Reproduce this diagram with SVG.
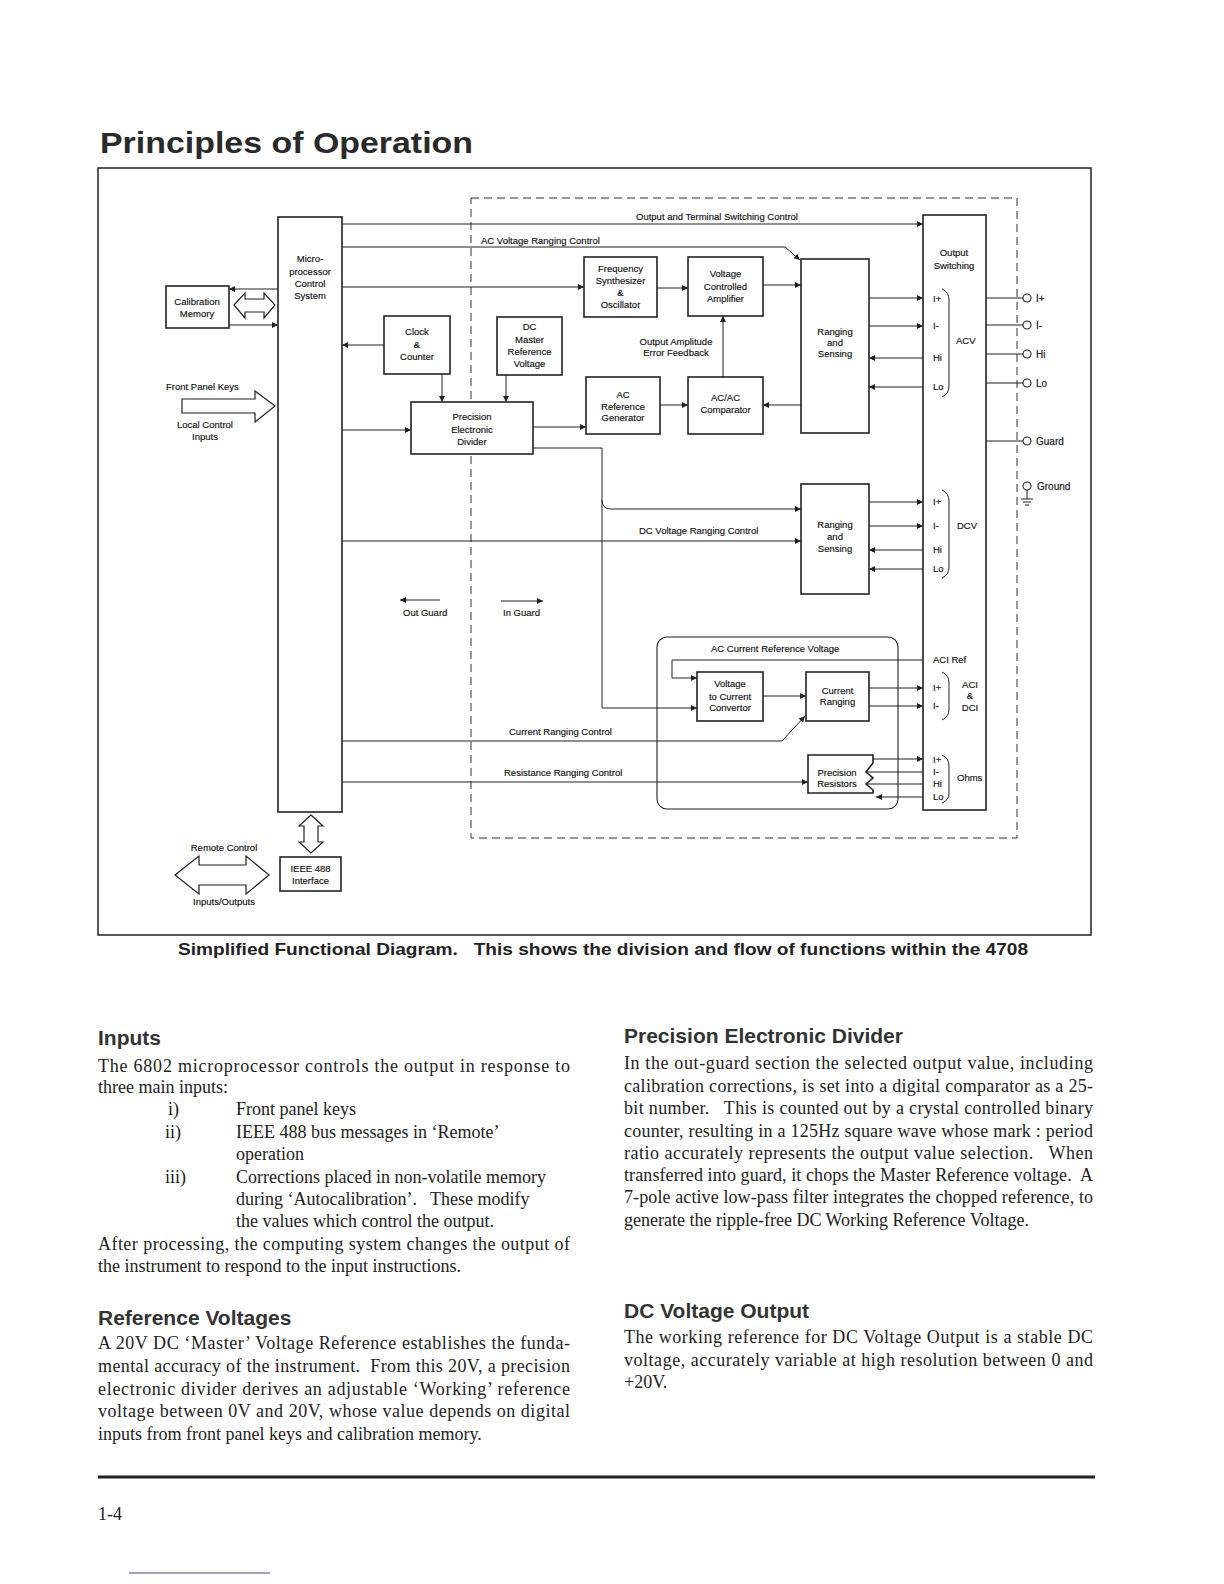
<svg xmlns="http://www.w3.org/2000/svg" width="1224" height="1584" viewBox="0 0 1224 1584">
<defs>
<marker id="ah" viewBox="0 0 10 10" refX="10" refY="5" markerWidth="8" markerHeight="6" orient="auto" markerUnits="userSpaceOnUse"><path d="M0,0 L10,5 L0,10 z" fill="#222"/></marker>
<style>
.box{fill:#fff;stroke:#222;stroke-width:1.6}
.ln{fill:none;stroke:#222;stroke-width:1}
.ar{fill:none;stroke:#222;stroke-width:1;marker-end:url(#ah)}
.hol{fill:#fff;stroke:#222;stroke-width:1.2}
.t{font-family:"Liberation Sans",Arial,sans-serif;font-size:9.5px;fill:#111;stroke:#111;stroke-width:0.15}
.c{text-anchor:middle}
.tl{font-family:"Liberation Sans",Arial,sans-serif;font-size:10px;fill:#111;stroke:#111;stroke-width:0.15}
.h{font-family:"Liberation Sans",Arial,sans-serif;font-size:21px;font-weight:bold;fill:#333}
.b{font-family:"Liberation Serif","Times New Roman",serif;font-size:18px;fill:#222}
</style>
</defs>
<rect width="1224" height="1584" fill="#fff"/>
<text x="100" y="153" font-family="Liberation Sans,Arial,sans-serif" font-size="30" font-weight="bold" fill="#2a2a2a" textLength="373" lengthAdjust="spacingAndGlyphs">Principles of Operation</text>
<rect x="98" y="168" width="993" height="767" fill="none" stroke="#222" stroke-width="1.5"/>
<rect id="guard" x="471" y="198" width="546" height="640" fill="none" stroke="#333" stroke-width="1" stroke-dasharray="8 5"/>

<g id="connectors">
<path class="ar" d="M278,289 H229"/>
<path class="ar" d="M229,325 H278"/>
<path class="ar" d="M342,224 H923"/>
<path class="ar" d="M342,247 H785 L800,260"/>
<path class="ar" d="M342,287 H584"/>
<path class="ar" d="M384,345 H342"/>
<path class="ar" d="M442,374 V402"/>
<path class="ar" d="M342,430 H411"/>
<path class="ar" d="M506,375 V402"/>
<path class="ar" d="M657,288 H688"/>
<path class="ar" d="M763,285 H801"/>
<path class="ar" d="M723,377 V316"/>
<path class="ar" d="M660,405 H688"/>
<path class="ar" d="M801,405 H763"/>
<path class="ar" d="M533,427 H586"/>
<path class="ar" d="M533,448 H602 V708 H697"/>
<path class="ar" d="M602,500 Q602,509 611,509 H801"/>
<path class="ar" d="M342,541 H801"/>
<path class="ar" d="M342,741 H782 L805,716"/>
<path class="ar" d="M342,782 H808"/>
<path class="ar" d="M923,660 H672 V678 H697"/>
<path class="ar" d="M763,696 H806"/>
<path class="ar" d="M869,298 H923"/>
<path class="ar" d="M869,326 H923"/>
<path class="ar" d="M923,358 H869"/>
<path class="ar" d="M923,387 H869"/>
<path class="ar" d="M869,502 H923"/>
<path class="ar" d="M869,526 H923"/>
<path class="ar" d="M923,550 H869"/>
<path class="ar" d="M923,569 H869"/>
<path class="ar" d="M869,688 H923"/>
<path class="ar" d="M869,706 H923"/>
<path class="ar" d="M873,759 H923"/>
<path class="ln" d="M866,772 H923"/>
<path class="ln" d="M866,784 H923"/>
<path class="ar" d="M923,797 H876"/>
<path class="ar" d="M440,600 H400"/>
<path class="ar" d="M501,601 H543"/>
<path class="ln" d="M986,298 H1023 M986,325 H1023 M986,354 H1023 M986,383 H1023 M986,441 H1023"/>
</g>

<g id="labels">
<text class="t" x="636" y="220">Output and Terminal Switching Control</text>
<text class="t" x="481" y="244">AC Voltage  Ranging Control</text>
<text class="t" x="639" y="534">DC Voltage Ranging Control</text>
<text class="t" x="509" y="735">Current Ranging Control</text>
<text class="t" x="504" y="776">Resistance Ranging Control</text>
<text class="t c" x="676" y="345">Output Amplitude</text>
<text class="t c" x="676" y="356">Error Feedback</text>
<text class="t" x="403" y="616">Out Guard</text>
<text class="t" x="503" y="616">In Guard</text>
<text class="t" x="711" y="652">AC Current Reference Voltage</text>
</g>

<g id="micro">
<rect class="box" x="278" y="217" width="64" height="595"/>
<text class="t c" x="310" y="262">Micro-</text>
<text class="t c" x="310" y="275">processor</text>
<text class="t c" x="310" y="287">Control</text>
<text class="t c" x="310" y="299">System</text>
</g>

<g id="calibration">
<rect class="box" x="166" y="286" width="63" height="42"/>
<text class="t c" x="197" y="305">Calibration</text>
<text class="t c" x="197" y="317">Memory</text>
<polygon class="hol" points="234,305 245,293 245,299 264,299 264,293 275,305 264,318 264,312 245,312 245,318"/>
</g>

<g id="frontpanel">
<polygon class="hol" points="182,399 255,399 255,391 275,406 255,422 255,413 182,413"/>
<text class="t" x="166" y="390">Front Panel Keys</text>
<text class="t c" x="205" y="428">Local Control</text>
<text class="t c" x="205" y="440">Inputs</text>
</g>

<g id="clock">
<rect class="box" x="384" y="316" width="66" height="58"/>
<text class="t c" x="417" y="335">Clock</text>
<text class="t c" x="417" y="348">&amp;</text>
<text class="t c" x="417" y="360">Counter</text>
</g>

<g id="divider">
<rect class="box" x="411" y="402" width="122" height="52"/>
<text class="t c" x="472" y="420">Precision</text>
<text class="t c" x="472" y="433">Electronic</text>
<text class="t c" x="472" y="445">Divider</text>
</g>

<g id="dcmaster">
<rect class="box" x="497" y="317" width="65" height="58"/>
<text class="t c" x="529.5" y="330">DC</text>
<text class="t c" x="529.5" y="343">Master</text>
<text class="t c" x="529.5" y="355">Reference</text>
<text class="t c" x="529.5" y="367">Voltage</text>
</g>

<g id="freqsynth">
<rect class="box" x="584" y="257" width="73" height="60"/>
<text class="t c" x="620.5" y="272">Frequency</text>
<text class="t c" x="620.5" y="284">Synthesizer</text>
<text class="t c" x="620.5" y="296">&amp;</text>
<text class="t c" x="620.5" y="308">Oscillator</text>
</g>

<g id="vca">
<rect class="box" x="688" y="257" width="75" height="59"/>
<text class="t c" x="725.5" y="277">Voltage</text>
<text class="t c" x="725.5" y="290">Controlled</text>
<text class="t c" x="725.5" y="302">Amplifier</text>
</g>

<g id="acrefgen">
<rect class="box" x="586" y="377" width="74" height="57"/>
<text class="t c" x="623" y="398">AC</text>
<text class="t c" x="623" y="410">Reference</text>
<text class="t c" x="623" y="421">Generator</text>
</g>

<g id="acac">
<rect class="box" x="688" y="377" width="75" height="57"/>
<text class="t c" x="725.5" y="401">AC/AC</text>
<text class="t c" x="725.5" y="413">Comparator</text>
</g>

<g id="ranging1">
<rect class="box" x="801" y="259" width="68" height="174"/>
<text class="t c" x="835" y="335">Ranging</text>
<text class="t c" x="835" y="346">and</text>
<text class="t c" x="835" y="357">Sensing</text>
</g>

<g id="ranging2">
<rect class="box" x="801" y="484" width="68" height="110"/>
<text class="t c" x="835" y="528">Ranging</text>
<text class="t c" x="835" y="540">and</text>
<text class="t c" x="835" y="552">Sensing</text>
</g>

<g id="acicurrent">
<rect x="657" y="637" width="241" height="172" rx="10" fill="none" stroke="#222" stroke-width="1.1"/>
</g>

<g id="v2i">
<rect class="box" x="697" y="672" width="66" height="49"/>
<text class="t c" x="730" y="687">Voltage</text>
<text class="t c" x="730" y="700">to Current</text>
<text class="t c" x="730" y="711">Convertor</text>
</g>

<g id="currentranging">
<rect class="box" x="806" y="672" width="63" height="49"/>
<text class="t c" x="837.5" y="694">Current</text>
<text class="t c" x="837.5" y="705">Ranging</text>
</g>

<g id="precres">
<path class="box" d="M808,755 H873 V763 L866,772 L873,778 L866,784 L873,790 V793 H808 Z"/>
<text class="t c" x="837" y="776">Precision</text>
<text class="t c" x="837" y="787">Resistors</text>
</g>

<g id="outsw">
<rect class="box" x="923" y="215" width="63" height="595"/>
<text class="t c" x="954" y="256">Output</text>
<text class="t c" x="954" y="269">Switching</text>
<text class="t" x="933" y="302">I+</text>
<text class="t" x="933" y="329">I-</text>
<text class="t" x="933" y="361">Hi</text>
<text class="t" x="933" y="390">Lo</text>
<path class="ln" d="M942,289 Q949,292 949,300 V386 Q949,394 942,397"/>
<text class="t" x="956" y="344">ACV</text>
<text class="t" x="933" y="505">I+</text>
<text class="t" x="933" y="529">I-</text>
<text class="t" x="933" y="553">Hi</text>
<text class="t" x="933" y="572">Lo</text>
<path class="ln" d="M942,490 Q949,493 949,501 V567 Q949,575 942,578"/>
<text class="t" x="957" y="529">DCV</text>
<text class="t" x="933" y="663">ACI Ref</text>
<text class="t" x="933" y="691">I+</text>
<text class="t" x="933" y="709">I-</text>
<path class="ln" d="M942,672 Q949,675 949,683 V709 Q949,717 942,720"/>
<text class="t c" x="970" y="688">ACI</text>
<text class="t c" x="970" y="699">&amp;</text>
<text class="t c" x="970" y="711">DCI</text>
<text class="t" x="933" y="763">I+</text>
<text class="t" x="933" y="775">I-</text>
<text class="t" x="933" y="787">Hi</text>
<text class="t" x="933" y="800">Lo</text>
<path class="ln" d="M942,755 Q949,758 949,766 V794 Q949,800 942,803"/>
<text class="t" x="957" y="781">Ohms</text>
</g>

<g id="terminals">
<g fill="#fff" stroke="#222" stroke-width="1.1">
<circle cx="1027" cy="298" r="4"/>
<circle cx="1027" cy="325" r="4"/>
<circle cx="1027" cy="354" r="4"/>
<circle cx="1027" cy="383" r="4"/>
<circle cx="1027" cy="441" r="4"/>
<circle cx="1027" cy="486" r="4"/>
</g>
<path class="ln" d="M1027,490 V499 M1021,499 H1033 M1023,502 H1031 M1025,505 H1029"/>
<text class="tl" x="1036" y="302">I+</text>
<text class="tl" x="1036" y="329">I-</text>
<text class="tl" x="1036" y="358">Hi</text>
<text class="tl" x="1036" y="387">Lo</text>
<text class="tl" x="1036" y="445">Guard</text>
<text class="tl" x="1037" y="490">Ground</text>
</g>

<g id="ieee">
<polygon class="hol" points="311,815 323,826 318,826 318,842 323,842 311,853 299,842 304,842 304,826 299,826"/>
<rect class="box" x="280" y="857" width="61" height="34"/>
<text class="t c" x="310.5" y="872">IEEE 488</text>
<text class="t c" x="310.5" y="884">Interface</text>
</g>

<g id="remote">
<polygon class="hol" points="175,875 199,856 199,865 246,865 246,856 269,875 246,894 246,885 199,885 199,894"/>
<text class="t c" x="224" y="851">Remote Control</text>
<text class="t c" x="224" y="905">Inputs/Outputs</text>
</g>

<text x="178" y="955" font-family="Liberation Sans,Arial,sans-serif" font-size="17" font-weight="bold" fill="#222" textLength="850" lengthAdjust="spacingAndGlyphs" xml:space="preserve">Simplified Functional Diagram.   This shows the division and flow of functions within the 4708</text>

<g id="text-left">
<text class="h" x="98" y="1045">Inputs</text>
<text class="b" x="98" y="1072" textLength="472" lengthAdjust="spacing">The 6802 microprocessor controls the output in response to</text>
<text class="b" x="98" y="1093">three main inputs:</text>
<text class="b" x="168" y="1115">i)</text>
<text class="b" x="236" y="1115">Front panel keys</text>
<text class="b" x="165" y="1138">ii)</text>
<text class="b" x="236" y="1138">IEEE 488 bus messages in ‘Remote’</text>
<text class="b" x="236" y="1160">operation</text>
<text class="b" x="165" y="1183">iii)</text>
<text class="b" x="236" y="1183">Corrections placed in non-volatile memory</text>
<text class="b" x="236" y="1205" xml:space="preserve">during ‘Autocalibration’.   These modify</text>
<text class="b" x="236" y="1227">the values which control the output.</text>
<text class="b" x="98" y="1250" textLength="472" lengthAdjust="spacing">After processing, the computing system changes the output of</text>
<text class="b" x="98" y="1272">the instrument to respond to the input instructions.</text>
<text class="h" x="98" y="1325">Reference Voltages</text>
<text class="b" x="98" y="1349" textLength="472" lengthAdjust="spacing">A 20V DC ‘Master’ Voltage Reference establishes the funda-</text>
<text class="b" x="98" y="1372" textLength="472" lengthAdjust="spacing" xml:space="preserve">mental accuracy of the instrument.  From this 20V, a precision</text>
<text class="b" x="98" y="1395" textLength="472" lengthAdjust="spacing">electronic divider derives an adjustable ‘Working’ reference</text>
<text class="b" x="98" y="1417" textLength="472" lengthAdjust="spacing">voltage between 0V and 20V, whose value depends on digital</text>
<text class="b" x="98" y="1440">inputs from front panel keys and calibration memory.</text>
</g>

<g id="text-right">
<text class="h" x="624" y="1043">Precision Electronic Divider</text>
<text class="b" x="624" y="1069" textLength="469" lengthAdjust="spacing">In the out-guard section the selected output value, including</text>
<text class="b" x="624" y="1092" textLength="469" lengthAdjust="spacing">calibration corrections, is set into a digital comparator as a 25-</text>
<text class="b" x="624" y="1114" textLength="469" lengthAdjust="spacing" xml:space="preserve">bit number.   This is counted out by a crystal controlled binary</text>
<text class="b" x="624" y="1137" textLength="469" lengthAdjust="spacing">counter, resulting in a 125Hz square wave whose mark : period</text>
<text class="b" x="624" y="1159" textLength="469" lengthAdjust="spacing" xml:space="preserve">ratio accurately represents the output value selection.   When</text>
<text class="b" x="624" y="1181" textLength="469" lengthAdjust="spacing" xml:space="preserve">transferred into guard, it chops the Master Reference voltage.  A</text>
<text class="b" x="624" y="1203" textLength="469" lengthAdjust="spacing">7-pole active low-pass filter integrates the chopped reference, to</text>
<text class="b" x="624" y="1226">generate the ripple-free DC Working Reference Voltage.</text>
<text class="h" x="624" y="1318">DC Voltage Output</text>
<text class="b" x="624" y="1343" textLength="469" lengthAdjust="spacing">The working reference for DC Voltage Output is a stable DC</text>
<text class="b" x="624" y="1366" textLength="469" lengthAdjust="spacing">voltage, accurately variable at high resolution between 0 and</text>
<text class="b" x="624" y="1388">+20V.</text>
</g>

<g id="footer">
<line x1="98" y1="1477" x2="1095" y2="1477" stroke="#222" stroke-width="3"/>
<text class="b" x="98" y="1520">1-4</text>
<line x1="129" y1="1573" x2="270" y2="1573" stroke="#3a4a8a" stroke-width="1"/>
</g>
</svg>
